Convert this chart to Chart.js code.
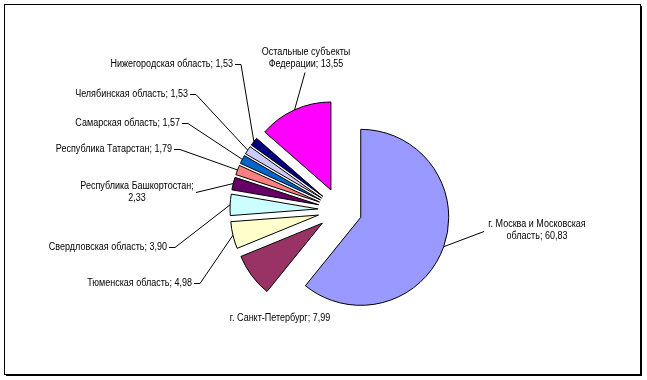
<!DOCTYPE html>
<html>
<head>
<meta charset="utf-8">
<script src="https://cdn.jsdelivr.net/npm/chart.js@4"></script>
<style>
  body { margin: 0; background: #fff; }
  #wrap { width: 647px; height: 380px; }
</style>
</head>
<body>
<div id="wrap"><canvas id="shareChart" width="647" height="380"></canvas></div>
<script>
// Data
var regions = [
  'г. Москва и Московская область',
  'г. Санкт-Петербург',
  'Тюменская область',
  'Свердловская область',
  'Республика Башкортостан',
  'Республика Татарстан',
  'Самарская область',
  'Челябинская область',
  'Нижегородская область',
  'Остальные субъекты Федерации'
];
var shares = [60.83, 7.99, 4.98, 3.90, 2.33, 1.79, 1.57, 1.53, 1.53, 13.55];
var sliceColors = ['#9999FF', '#993366', '#FFFFCC', '#CCFFFF', '#660066',
                   '#FF8080', '#0066CC', '#CCCCFF', '#000080', '#FF00FF'];

// label placement (text anchor, alignment, words on first line, leader start)
var labelLayout = [
  { x: 537, y: 224, align: 'center', brk: 4, lead: [484, 231] },
  { x: 280, y: 318, align: 'center', brk: 0, lead: null },
  { x: 192, y: 283, align: 'right', brk: 0, lead: [194, 283], kink: 6 },
  { x: 167, y: 247, align: 'right', brk: 0, lead: [169, 247], kink: 6 },
  { x: 137, y: 186, align: 'center', brk: 2, lead: [196, 192] },
  { x: 172, y: 149, align: 'right', brk: 0, lead: [174, 149], kink: 6 },
  { x: 180, y: 123, align: 'right', brk: 0, lead: [182, 123], kink: 6 },
  { x: 188, y: 94, align: 'right', brk: 0, lead: [190, 94], kink: 6 },
  { x: 233, y: 64, align: 'right', brk: 0, lead: [235, 64], kink: 6 },
  { x: 306, y: 52, align: 'center', brk: 2, lead: [305, 72] }
];

var EXPLODE = 22;
var FONT = '10px "Liberation Sans", Arial, sans-serif';
var SQUEEZE = 0.9; // labels in the original are a little condensed

function fmt(v) {
  return v.toFixed(2).replace('.', ',');
}

// pull every slice out from the centre along its mid angle
var explodePlugin = {
  id: 'explode',
  afterDatasetsUpdate: function (chart) {
    chart.getDatasetMeta(0).data.forEach(function (arc) {
      var mid = (arc.startAngle + arc.endAngle) / 2;
      arc.x += Math.cos(mid) * EXPLODE;
      arc.y += Math.sin(mid) * EXPLODE;
    });
  }
};

var labelPlugin = {
  id: 'sliceLabels',
  afterDatasetsDraw: function (chart) {
    var ctx = chart.ctx;
    var arcs = chart.getDatasetMeta(0).data;
    ctx.save();
    ctx.font = FONT;
    ctx.fillStyle = '#000';
    ctx.strokeStyle = '#000';
    ctx.lineWidth = 1;
    ctx.textBaseline = 'middle';
    arcs.forEach(function (arc, i) {
      var L = labelLayout[i];
      var text = regions[i] + '; ' + fmt(shares[i]);
      var lines = [text];
      if (L.brk) {
        var w = text.split(' ');
        lines = [w.slice(0, L.brk).join(' '), w.slice(L.brk).join(' ')];
      }
      ctx.textAlign = L.align;
      lines.forEach(function (ln, k) {
        ctx.save();
        ctx.translate(L.x, L.y + k * 12.5);
        ctx.scale(SQUEEZE, 1);
        ctx.fillText(ln, 0, 0);
        ctx.restore();
      });
      if (L.lead) {
        var mid = (arc.startAngle + arc.endAngle) / 2;
        var ex = arc.x + Math.cos(mid) * arc.outerRadius;
        var ey = arc.y + Math.sin(mid) * arc.outerRadius;
        ctx.beginPath();
        ctx.moveTo(L.lead[0], L.lead[1] + 0.5);
        if (L.kink) ctx.lineTo(L.lead[0] + L.kink, L.lead[1] + 0.5);
        ctx.lineTo(ex, ey);
        ctx.stroke();
      }
    });
    ctx.restore();
  }
};

var framePlugin = {
  id: 'frame',
  afterDraw: function (chart) {
    var ctx = chart.ctx;
    ctx.save();
    ctx.strokeStyle = '#000';
    ctx.lineWidth = 1;
    ctx.strokeRect(4.5, 4.5, 636, 370);
    ctx.beginPath();
    ctx.moveTo(641.5, 6);
    ctx.lineTo(641.5, 376);
    ctx.moveTo(6, 375.5);
    ctx.lineTo(642, 375.5);
    ctx.stroke();
    ctx.restore();
  }
};

new Chart(document.getElementById('shareChart'), {
  type: 'pie',
  data: {
    labels: regions,
    datasets: [
      {
        data: shares,
        backgroundColor: sliceColors,
        borderColor: '#000',
        borderWidth: 1,
        radius: 88
      }
    ]
  },
  options: {
    responsive: false,
    animation: false,
    events: [],
    layout: { padding: { left: 53, right: 20, top: 60, bottom: 20 } },
    plugins: {
      legend: { display: false },
      tooltip: { enabled: false }
    }
  },
  plugins: [explodePlugin, labelPlugin, framePlugin]
});
</script>
</body>
</html>
